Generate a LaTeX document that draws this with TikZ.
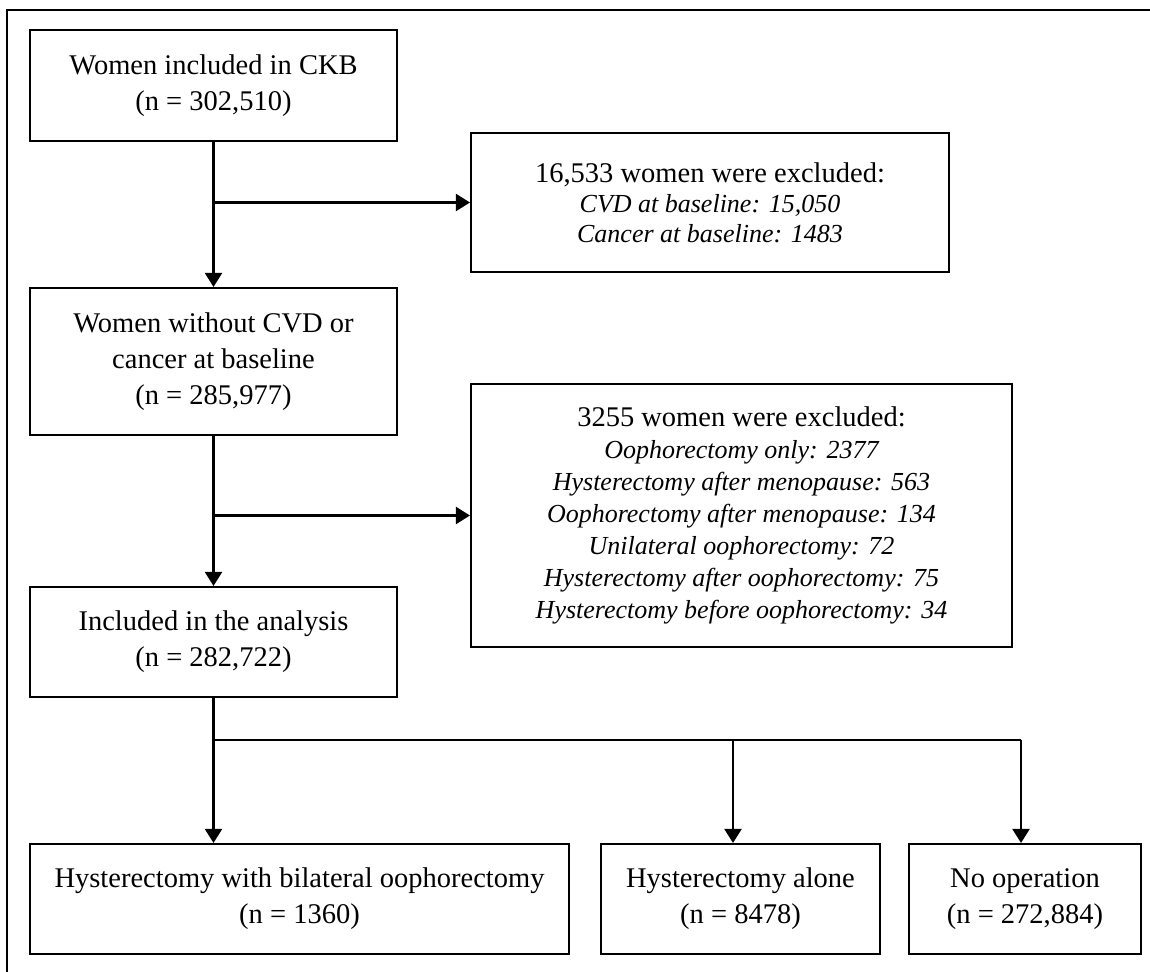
\documentclass[tikz,border=0pt]{standalone}
\usepackage{fontspec}
\setmainfont{Liberation Serif}
\usetikzlibrary{arrows.meta}
\begin{document}
\begin{tikzpicture}[x=1pt,y=-1pt,
  box/.style={draw=black,line width=2.1pt,inner sep=0pt,align=center,
    font=\fontsize{28.5}{36}\selectfont},
  exbox/.style={draw=black,line width=2.1pt,inner sep=0pt,align=center,
    font=\fontsize{26}{30}\selectfont},
  conn/.style={line width=2.1pt,draw=black},
  arr/.style={conn,-{Triangle[width=17pt,length=14pt]}}]
\useasboundingbox (0,0) rectangle (1150,971);
\clip (0,0) rectangle (1150,971);
\draw[line width=2.2pt] (7,990) -- (7,10) -- (1170,10);

\node[box,minimum width=367pt,minimum height=111pt] (b1) at (213.5,85.5)
  {Women included in CKB\\(n = 302,510)};
\node[exbox,minimum width=478pt,minimum height=139pt] (x1) at (710,202.5)
  {{\fontsize{28.5}{30}\selectfont 16,533 women were excluded:}\\
   \itshape CVD at baseline: 15,050\\
   \itshape Cancer at baseline: 1483};
\node[box,minimum width=367pt,minimum height=147pt] (b2) at (213.5,361.5)
  {Women without CVD or\\cancer at baseline\\(n = 285,977)};
\node[exbox,font=\fontsize{26}{32}\selectfont,minimum width=541pt,minimum height=263pt] (x2) at (741.5,515.5)
  {{\fontsize{28.5}{32}\selectfont 3255 women were excluded:}\\
   \itshape Oophorectomy only: 2377\\
   \itshape Hysterectomy after menopause: 563\\
   \itshape Oophorectomy after menopause: 134\\
   \itshape Unilateral oophorectomy: 72\\
   \itshape Hysterectomy after oophorectomy: 75\\
   \itshape Hysterectomy before oophorectomy: 34};
\node[box,minimum width=367pt,minimum height=110pt] (b3) at (213.5,642)
  {Included in the analysis\\(n = 282,722)};
\node[box,minimum width=539pt,minimum height=110pt] (b4) at (299.5,899)
  {Hysterectomy with bilateral oophorectomy\\(n = 1360)};
\node[box,minimum width=279pt,minimum height=110pt] (b5) at (740.5,899)
  {Hysterectomy alone\\(n = 8478)};
\node[box,minimum width=232pt,minimum height=110pt] (b6) at (1025,899)
  {No operation\\(n = 272,884)};

\draw[arr] (b1.south) -- (b2.north);
\draw[arr] (b1.south |- x1.west) -- (x1.west);
\draw[arr] (b2.south) -- (b3.north);
\draw[arr] (b2.south |- x2.west) -- (x2.west);

\coordinate (j1) at (213.5,740);
\coordinate (j2) at (733,740);
\coordinate (j3) at (1021,740);
\draw[conn] (b3.south) -- (j1) -- (j3);
\draw[arr] (j1) -- (j1 |- b4.north);
\draw[arr] (j2) -- (j2 |- b5.north);
\draw[arr] (j3) -- (j3 |- b6.north);
\end{tikzpicture}
\end{document}
